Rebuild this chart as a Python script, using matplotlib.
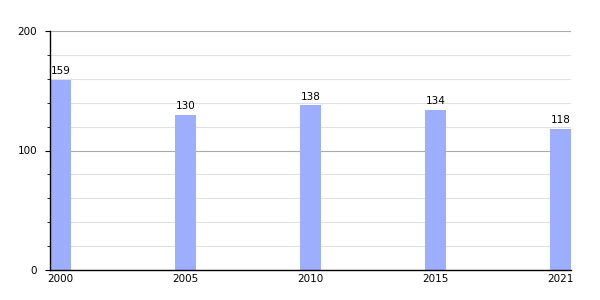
import matplotlib.pyplot as plt
import numpy as np
from matplotlib.ticker import MultipleLocator

years = ["2000", "2005", "2010", "2015", "2021"]
values = [159, 130, 138, 134, 118]

fig = plt.figure(figsize=(6, 3), dpi=100)
ax = fig.add_axes([50/600, 30/300, 521/600, 239/300])

x = np.arange(len(years))
w = 0.168
bars = ax.bar(x, values, width=w, align="edge", color="#9daeff", zorder=2)

for xi, v in zip(x, values):
    ax.text(xi + w/2, v + 3, str(v), ha="center", va="bottom", fontsize=7.5, zorder=3)

ax.set_xlim(0, len(years) - 1 + w)
ax.set_ylim(0, 200)
ax.set_xticks(x + w/2)
ax.set_xticklabels(years, fontsize=7.5)
ax.tick_params(axis="x", length=0, pad=3)

ax.yaxis.set_major_locator(MultipleLocator(100))
ax.yaxis.set_minor_locator(MultipleLocator(20))
ax.tick_params(axis="y", which="major", length=3.6, labelsize=7.5, pad=5.8)
ax.tick_params(axis="y", which="minor", length=2)
ax.grid(axis="y", which="major", color="#aaaaaa", linewidth=0.8, zorder=0)
ax.grid(axis="y", which="minor", color="#e0e0e0", linewidth=0.8, zorder=0)
ax.set_axisbelow(True)

for s in ["top", "right"]:
    ax.spines[s].set_visible(False)
ax.spines["left"].set_linewidth(1)
ax.spines["bottom"].set_linewidth(1)

fig.savefig("out.png", dpi=100)
